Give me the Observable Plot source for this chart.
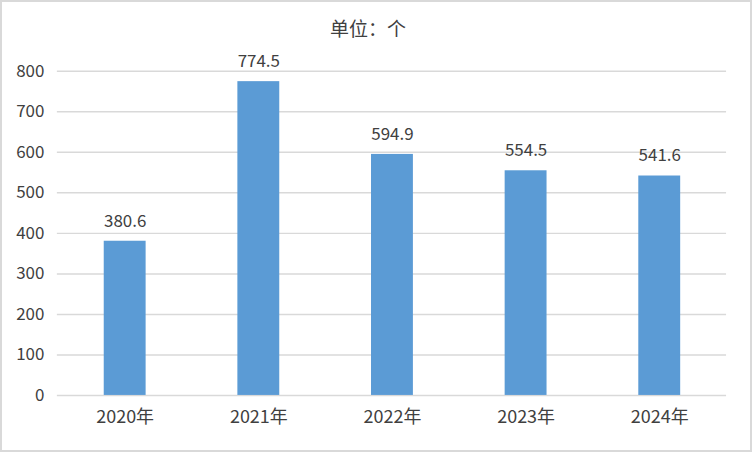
<!DOCTYPE html>
<html>
<head>
<meta charset="utf-8">
<script src="https://cdn.jsdelivr.net/npm/d3@7"></script>
<script src="https://cdn.jsdelivr.net/npm/@observablehq/plot@0.6"></script>
<style>
  html, body { margin: 0; padding: 0; background: #fff; }
  #wrap {
    position: relative; width: 752px; height: 452px; box-sizing: border-box;
    border: 2px solid #d9d9d9; background: #fff; overflow: hidden;
    font-family: "Noto Sans CJK SC", "Noto Sans", sans-serif; color: #404040;
  }
  #title {
    position: absolute; left: 0; top: 0; width: 732px; height: 48px; z-index: 2;
    text-align: center; font-size: 19px; line-height: 52px; color: #404040;
  }
  #chart { position: absolute; left: -2px; top: 0px; z-index: 1; }
</style>
</head>
<body>
<div id="wrap">
  <div id="chart"></div>
  <div id="title">单位：个</div>
</div>
<script>
const years = ["2020年", "2021年", "2022年", "2023年", "2024年"];
const values = [380.6, 774.5, 594.9, 554.5, 541.6];
const yTicks = [0, 100, 200, 300, 400, 500, 600, 700, 800];

const data = years.map((y, i) => ({year: y, value: values[i]}));

const chart = Plot.plot({
  width: 752,
  height: 448,
  marginLeft: 57,
  marginRight: 24,
  marginTop: 69,
  marginBottom: 54,
  style: {fontFamily: "'Noto Sans CJK SC', 'Noto Sans', sans-serif", color: "#404040", background: "transparent"},
  x: {domain: years, padding: 0, label: null},
  y: {domain: [0, 800], ticks: yTicks, label: null},
  marks: [
    Plot.ruleY(yTicks, {stroke: "#d9d9d9", strokeWidth: 1.5}),
    Plot.barY(data, {x: "year", y: "value", fill: "#5b9bd5", insetLeft: 46, insetRight: 46}),
    Plot.text(data, {x: "year", y: "value", text: d => d.value.toFixed(1), dy: -20, fontSize: 17, fill: "#404040"}),
    Plot.axisY({ticks: yTicks, tickSize: 0, tickPadding: 13, fontSize: 17, tickFormat: d => String(d), label: null}),
    Plot.axisX({tickSize: 0, tickPadding: 15, fontSize: 18, label: null})
  ]
});
document.getElementById("chart").appendChild(chart);
</script>
</body>
</html>
